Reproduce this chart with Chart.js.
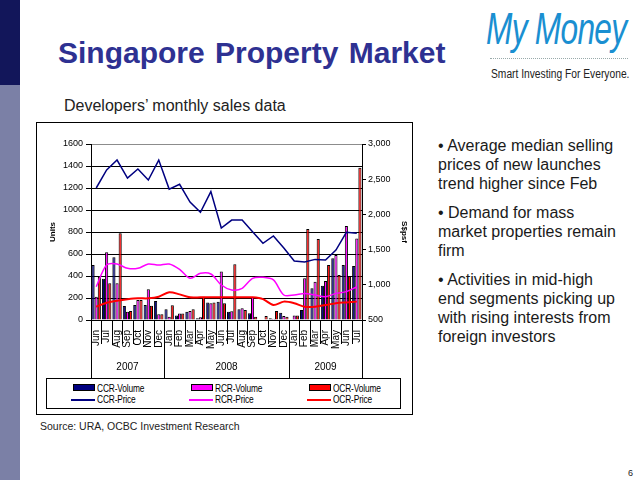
<!DOCTYPE html>
<html>
<head>
<meta charset="utf-8">
<script src="https://cdn.jsdelivr.net/npm/chart.js@4"></script>
<style>
  body { margin: 0; background: #fff; }
  #slide { position: relative; width: 640px; height: 480px; overflow: hidden; font-family: "Liberation Sans", Arial, sans-serif; }
  .abs { position: absolute; white-space: nowrap; }
  .narrow { transform-origin: 0 0; }
  #stripTop { left: 0; top: 0; width: 20px; height: 85px; background: #12165a; }
  #stripBottom { left: 0; top: 85px; width: 20px; height: 395px; background: #7b80a6; }
  #title { left: 58px; top: 36px; font-size: 30px; line-height: 34px; font-weight: bold; color: #2e3192; word-spacing: 2px; }
  #logo { left: 486px; top: 4px; font-style: italic; font-size: 44px; line-height: 50px; letter-spacing: -1px; color: #1a8fd1; transform: scaleX(0.72); }
  #logoLine { left: 490px; top: 58px; width: 138px; border-top: 1px dotted #9aa; }
  #tagline { left: 491px; top: 67px; font-size: 12.5px; line-height: 15px; color: #222; transform: scaleX(0.82); }
  #subtitle { left: 64px; top: 96px; font-size: 16px; line-height: 19px; color: #222; }
  #box { left: 36px; top: 122px; width: 375px; height: 291px; border: 1px solid #000; }
  #chartCanvas { position: absolute; left: 37px; top: 123px; }
  #legendBox { left: 46px; top: 378px; width: 353px; height: 29px; border: 1px solid #000; background: #fff; }
  .lg { position: absolute; font-size: 11px; line-height: 12px; letter-spacing: -0.2px; color: #000; transform: scaleX(0.76); transform-origin: 0 0; }
  .sw { position: absolute; height: 5px; border: 1px solid #000; }
  .ln { position: absolute; height: 2px; }
  #source { left: 40px; top: 420px; font-size: 10.5px; line-height: 13px; color: #222; }
  #bullets { left: 438px; top: 136px; font-size: 16px; line-height: 19px; color: #1a1a1a; }
  #bullets p { margin: 0 0 10px 0; }
  #pageNo { left: 628px; top: 468px; font-size: 9px; color: #222; }
</style>
</head>
<body>
<div id="slide">
  <div class="abs" id="stripTop"></div>
  <div class="abs" id="stripBottom"></div>
  <div class="abs" id="title">Singapore Property Market</div>
  <div class="abs narrow" id="logo">My Money</div>
  <div class="abs" id="logoLine"></div>
  <div class="abs narrow" id="tagline">Smart Investing For Everyone.</div>
  <div class="abs" id="subtitle">Developers’ monthly sales data</div>
  <div class="abs" id="box"></div>
  <canvas id="chartCanvas" width="375" height="291"></canvas>
  <div class="abs" id="legendBox">
    <div class="sw" style="left:26px;top:5px;width:20px;background:#000080"></div>
    <div class="lg" style="left:50px;top:3px">CCR-Volume</div>
    <div class="ln" style="left:24px;top:20px;width:24px;background:#000080"></div>
    <div class="lg" style="left:50px;top:14px">CCR-Price</div>
    <div class="sw" style="left:144px;top:5px;width:20px;background:#ff00ff"></div>
    <div class="lg" style="left:168px;top:3px">RCR-Volume</div>
    <div class="ln" style="left:142px;top:20px;width:24px;background:#ff00ff"></div>
    <div class="lg" style="left:168px;top:14px">RCR-Price</div>
    <div class="sw" style="left:262px;top:5px;width:20px;background:#ff0000"></div>
    <div class="lg" style="left:286px;top:3px">OCR-Volume</div>
    <div class="ln" style="left:260px;top:20px;width:24px;background:#ff0000"></div>
    <div class="lg" style="left:286px;top:14px">OCR-Price</div>
  </div>
  <div class="abs" id="source">Source: URA, OCBC Investment Research</div>
  <div class="abs" id="bullets">
    <p>• Average median selling<br>prices of new launches<br>trend higher since Feb</p>
    <p>• Demand for mass<br>market properties remain<br>firm</p>
    <p>• Activities in mid-high<br>end segments picking up<br>with rising interests from<br>foreign investors</p>
  </div>
  <div class="abs" id="pageNo">6</div>
</div>

<script>
// Categories: Jun 2007 .. Jul 2009
const months = ['Jun','Jul','Aug','Sep','Oct','Nov','Dec',
                'Jan','Feb','Mar','Apr','May','Jun','Jul','Aug','Sep','Oct','Nov','Dec',
                'Jan','Feb','Mar','Apr','May','Jun','Jul'];
const years = ['2007', '2008', '2009'];
const yearSpans = [7, 12, 7];

// Volumes (units, left axis)
const ccrVolume = [500, 375, 570, 127, 136, 136, 173, 97, 40, 76, 15, 158, 167, 76, 97, 61, 5, 15, 67, 5, 91, 288, 312, 561, 500, 491];
const rcrVolume = [212, 615, 333, 76, 182, 279, 52, 30, 60, 82, 24, 152, 440, 80, 106, 210, 5, 12, 36, 42, 379, 348, 355, 591, 855, 742];
const ocrVolume = [394, 333, 788, 82, 182, 130, 52, 133, 60, 97, 212, 158, 152, 506, 91, 30, 36, 82, 30, 42, 827, 736, 500, 409, 400, 1385];

// Median prices (S$psf, right axis)
const ccrPrice = [2375, 2631, 2772, 2516, 2645, 2489, 2772, 2359, 2427, 2175, 2031, 2323, 1806, 1920, 1920, 1755, 1589, 1694, 1523, 1337, 1323, 1361, 1352, 1494, 1745, 1731];
const rcrPrice = [973, 1281, 1295, 1234, 1234, 1295, 1281, 1295, 1219, 1092, 1163, 1153, 997, 927, 950, 1092, 1106, 1069, 855, 855, 878, 855, 831, 878, 903, 973];
const ocrPrice = [689, 745, 773, 794, 808, 808, 831, 894, 864, 822, 822, 822, 822, 822, 822, 822, 797, 713, 761, 738, 689, 689, 713, 738, 750, 761];

const chartFont = '"Liberation Sans", Arial, sans-serif';

// Two-level category axis: month separators, year separators and year labels
const yearAxisPlugin = {
    id: 'yearAxis',
    afterDraw(chart) {
        const xs = chart.scales.x;
        const ctx = chart.ctx;
        const top = chart.chartArea.bottom;
        const legendTop = chart.height - chart.options.layout.padding.bottom;
        const bounds = [0];
        yearSpans.forEach(n => bounds.push(bounds[bounds.length - 1] + n));
        ctx.save();
        ctx.strokeStyle = '#000';
        ctx.lineWidth = 1;
        for (let i = 0; i <= months.length; i++) {
            const px = Math.round(xs.getPixelForValue(i - 0.5)) + 0.5;
            const end = bounds.includes(i) ? legendTop : top + 24;
            ctx.beginPath();
            ctx.moveTo(px, top);
            ctx.lineTo(px, end);
            ctx.stroke();
        }
        ctx.fillStyle = '#000';
        ctx.font = '10px ' + chartFont;
        ctx.textAlign = 'center';
        ctx.textBaseline = 'middle';
        years.forEach((y, k) => {
            const a = xs.getPixelForValue(bounds[k] - 0.5);
            const b = xs.getPixelForValue(bounds[k + 1] - 0.5);
            ctx.fillText(y, (a + b) / 2, top + 47);
        });
        ctx.restore();
    }
};

const salesConfig = {
    type: 'bar',
    data: {
        labels: months,
        datasets: [
            { type: 'line', label: 'CCR-Price', data: ccrPrice, yAxisID: 'y1', borderColor: '#000080', borderWidth: 1.5, pointRadius: 0, tension: 0, order: 0 },
            { type: 'line', label: 'RCR-Price', data: rcrPrice, yAxisID: 'y1', borderColor: '#ff00ff', borderWidth: 1.5, pointRadius: 0, tension: 0.3, order: 0 },
            { type: 'line', label: 'OCR-Price', data: ocrPrice, yAxisID: 'y1', borderColor: '#ff0000', borderWidth: 2, pointRadius: 0, tension: 0.3, order: 0 },
            { label: 'CCR-Volume', data: ccrVolume, yAxisID: 'y', backgroundColor: '#000080', borderColor: '#000', borderWidth: 1, order: 1 },
            { label: 'RCR-Volume', data: rcrVolume, yAxisID: 'y', backgroundColor: '#ff00ff', borderColor: '#000', borderWidth: 1, order: 1 },
            { label: 'OCR-Volume', data: ocrVolume, yAxisID: 'y', backgroundColor: '#ff0000', borderColor: '#000', borderWidth: 1, order: 1 }
        ]
    },
    options: {
        responsive: false,
        animation: false,
        datasets: { bar: { categoryPercentage: 0.9, barPercentage: 1.0 } },
        layout: { padding: { left: 11, right: 3, top: 21, bottom: 36 } },
        plugins: { legend: { display: false }, tooltip: { enabled: false } },
        scales: {
            x: {
                offset: true,
                grid: { display: false },
                border: { color: '#000' },
                ticks: { autoSkip: false, minRotation: 90, maxRotation: 90, padding: 2, color: '#000', font: { family: chartFont, size: 10 } },
                afterFit: s => { s.height = 58; }
            },
            y: {
                position: 'left',
                min: 0, max: 1600,
                ticks: { stepSize: 200, padding: 3, color: '#000', font: { family: chartFont, size: 9 }, callback: v => String(v) },
                grid: { color: c => (c.tick && c.tick.value === 1600) ? '#8c8c8c' : '#000', tickColor: '#000', tickLength: 5 },
                border: { color: '#000' },
                title: { display: true, text: 'Units', color: '#000', font: { family: chartFont, size: 8, weight: 'bold' }, padding: 0 },
                afterFit: s => { s.width = 43; }
            },
            y1: {
                position: 'right',
                min: 500, max: 3000,
                ticks: { stepSize: 500, padding: 2, color: '#000', font: { family: chartFont, size: 9 }, callback: v => v.toLocaleString('en-US') },
                grid: { drawOnChartArea: false, tickColor: '#000', tickLength: 4 },
                border: { color: '#000' },
                title: { display: true, text: 'S$psf', color: '#000', font: { family: chartFont, size: 8, weight: 'bold' }, padding: 0 },
                afterFit: s => { s.width = 47; }
            }
        }
    },
    plugins: [yearAxisPlugin]
};

const salesChart = new Chart(document.getElementById('chartCanvas'), salesConfig);
</script>
</body>
</html>
